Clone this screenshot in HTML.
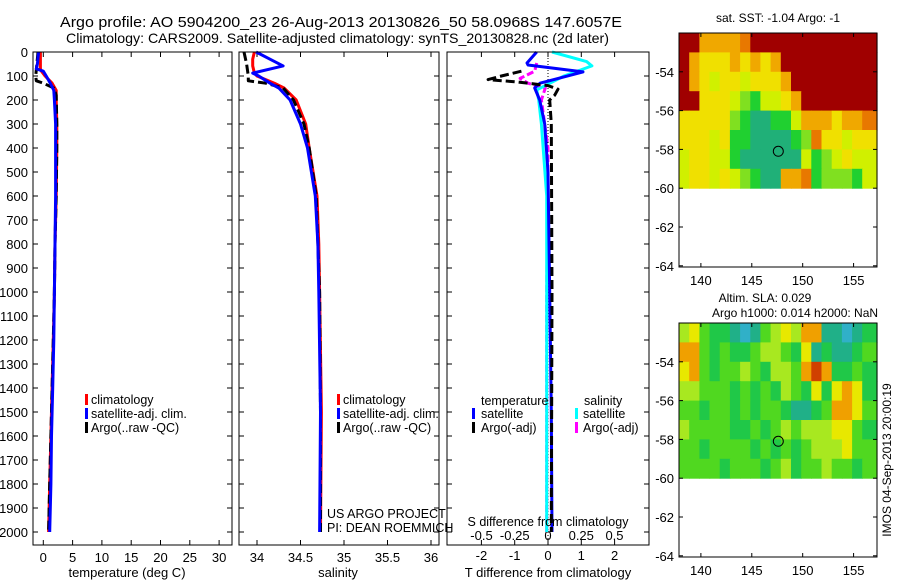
<!DOCTYPE html>
<html><head><meta charset="utf-8"><style>
html,body{margin:0;padding:0;background:#fff;}
svg{display:block;font-family:"Liberation Sans",sans-serif;}
text{font-size:13px;fill:#000;}
</style></head><body>
<svg id="fig" width="900" height="580" viewBox="0 0 900 580" xmlns="http://www.w3.org/2000/svg">
<text x="60" y="27" textLength="562" lengthAdjust="spacingAndGlyphs" style="font-size:15px">Argo profile: AO 5904200_23 26-Aug-2013 20130826_50 58.0968S 147.6057E</text>
<text x="66" y="43" textLength="543" lengthAdjust="spacingAndGlyphs" style="font-size:14px">Climatology: CARS2009. Satellite-adjusted climatology: synTS_20130828.nc (2d later)</text>
<g id="g"></g>
</svg>
<script>
// ---- profile data (depth in m) ----
const tDepth=[0,50,70,80,100,130,160,200,300,400,600,800,1000,1200,1400,1600,1800,2000];
const tClim=[-0.5,-0.5,-0.5,-0.3,0.3,1.5,2.2,2.2,2.3,2.3,2.2,2.0,1.9,1.7,1.5,1.3,1.1,0.9];
const tSat=[-0.8,-1.0,-1.2,0.0,0.5,1.2,1.8,1.9,2.1,2.1,2.1,2.0,1.9,1.8,1.6,1.4,1.3,1.1];
const aDepth=[0,50,100,120,130,150,180,300,400,600,800,1000,1200,1400,1600,1800,2000];
const tArgo=[-0.9,-1.1,-1.3,-1.2,0.0,1.8,2.2,2.3,2.3,2.2,2.0,1.9,1.7,1.5,1.3,1.1,0.9];
const sDepth=[0,30,58,88,100,130,150,200,300,400,600,800,1000,1500,2000];
const sClim=[33.97,33.95,33.95,33.97,34.0,34.2,34.31,34.45,34.56,34.6,34.69,34.71,34.72,34.74,34.73];
const sSat=[33.99,34.15,34.3,33.95,34.02,34.15,34.25,34.38,34.5,34.58,34.67,34.7,34.71,34.73,34.72];
const saDepth=[0,50,100,120,130,150,200,300,400,600,800,1000,1500,2000];
const sArgo=[33.85,33.88,33.9,33.9,34.1,34.3,34.42,34.54,34.6,34.68,34.7,34.72,34.73,34.73];
// differences
const dDepth=[0,46,54,83,130,150,200,300,500,1000,1500,2000];
const dTsat=[-0.34,-0.63,-0.6,1.05,-0.24,-0.4,-0.25,-0.1,0.0,0.05,0.1,0.12];
const dsDepth=[0,40,58,100,158,200,300,600,1000,2000];
const dSsat=[0.03,0.29,0.33,0.12,-0.085,-0.07,-0.05,-0.01,-0.01,-0.01];
const daDepth=[80,100,115,125,140,155,180,200,300,1000,2000];
const dTargo=[-0.8,-1.4,-1.8,-0.9,0.0,0.3,0.2,0.05,0.1,0.12,0.1];
const dsaDepth=[46,80,110,130,150,200,300,400,1000,2000];
const dSargo=[-0.085,-0.1,-0.21,-0.15,-0.02,-0.05,-0.025,0.0,-0.01,-0.01];
// ---- ticks ----
const depthTicks=[0,100,200,300,400,500,600,700,800,900,1000,1100,1200,1300,1400,1500,1600,1700,1800,1900,2000];
const tTicks=[0,5,10,15,20,25,30];
const sTicks=[34,34.5,35,35.5,36];
const dtTicks=[-2,-1,0,1,2];
const dsTicks=[-0.5,-0.25,0,0.25,0.5];
const dsTickLabels=["-0.5","-0.25","0","0.25","0.5"];
const latTicks=[-54,-56,-58,-60,-62,-64];
const lonTicks=[140,145,150,155];
// ---- maps (rows lat -52.. -60, cols lon 138..157) ----
const sstRows=[
[7,7,5,5,5,5,6,7,7,7,7,7,7,7,7,7,7,7,7],
[7,5,4,4,4,5,4,5,4,5,7,7,7,7,7,7,7,7,7],
[7,5,4,3,4,4,3,4,4,4,5,7,7,7,7,7,7,7,7],
[7,7,4,4,4,3,2,1,3,3,4,5,7,7,7,7,7,7,7],
[4,4,4,4,4,2,1,0,0,1,1,3,5,5,5,4,5,5,6],
[4,4,4,3,4,1,1,0,0,0,0,1,2,6,4,4,3,4,4],
[3,4,4,3,3,1,0,0,0,0,0,0,3,1,2,3,4,3,3],
[3,4,4,3,4,3,2,1,0,0,5,5,6,1,2,2,2,1,3]];
const slaRows=[
[4,5,3,2,2,1,0,1,3,4,5,4,6,6,1,1,0,1,2],
[6,6,3,2,3,2,2,3,4,4,3,2,5,1,2,1,1,2,3],
[5,6,3,2,3,3,4,3,2,4,4,3,6,7,6,2,2,3,2],
[4,4,3,3,3,2,3,2,3,2,4,3,2,5,2,5,6,5,2],
[3,3,2,3,3,2,3,2,3,3,2,1,1,2,3,6,6,5,3],
[4,3,3,3,3,2,2,3,2,3,4,3,4,4,4,5,5,3,2],
[3,3,2,3,3,3,3,2,3,2,3,2,3,4,4,4,5,3,3],
[3,3,3,3,2,3,3,3,2,3,4,2,3,3,4,3,3,2,3]];
const sstColors=["#20b078","#20d030","#80e020","#d0f000","#f0e000","#f0a800","#e87800","#a00000"];
const slaColors=["#30b0c8","#20b088","#20c848","#50d820","#a8e820","#e8e800","#f0a000","#d04000"];

const NS="http://www.w3.org/2000/svg";
const G=document.getElementById('g');
function mk(tag,attrs,parent){const e=document.createElementNS(NS,tag);for(const k in attrs)e.setAttribute(k,attrs[k]);(parent||G).appendChild(e);return e;}
const yD=d=>52+d*0.24;
const P1={x0:33,x1:232,f:v=>43.3+v*5.86};
const P2={x0:239,x1:439,f:v=>257+(v-34)*87};
const P3={x0:447,x1:649,f:v=>548+v*33.3};
const fS3=v=>548+v*133;

function frame(x0,x1,y0,y1,name){
  const r=mk('rect',{x:x0,y:y0,width:x1-x0,height:y1-y0,fill:'none',stroke:'#000','stroke-width':1});
  
  
}
function line(xs,ds,fx,color,name,dash){
  const pts=xs.map((v,i)=>fx(v).toFixed(1)+','+yD(ds[i]).toFixed(1)).join(' ');
  const p=mk('polyline',{points:pts,fill:'none',stroke:color,'stroke-width':3,'stroke-linejoin':'round'});
  if(dash)p.setAttribute('stroke-dasharray',dash);
  
  
}
function txt(x,y,s,anchor,name,size){
  const t=mk('text',{x:x,y:y,'text-anchor':anchor||'start'});
  if(size)t.style.fontSize=size+'px';
  t.textContent=s;
  
  
  return t;
}
function mark(x,y,color,name){
  const r=mk('rect',{x:x,y:y-10,width:3,height:11,fill:color});
  
  
}
[P1,P2,P3].forEach(P=>{
  depthTicks.forEach(d=>{
    mk('line',{x1:P.x0,x2:P.x0+5,y1:yD(d),y2:yD(d),stroke:'#000'});
    mk('line',{x1:P.x1,x2:P.x1-5,y1:yD(d),y2:yD(d),stroke:'#000'});
  });
});
depthTicks.forEach(d=>txt(28,yD(d)+5,String(d),'end','depth-tick-label'));
// panel 1
tTicks.forEach(v=>{const x=P1.f(v);mk('line',{x1:x,x2:x,y1:545,y2:540,stroke:'#000'});mk('line',{x1:x,x2:x,y1:52,y2:57,stroke:'#000'});txt(x,562,String(v),'middle','temp-tick-label');});
line(tClim,tDepth,P1.f,'#ff0000','temp-climatology-line');
line(tArgo,aDepth,P1.f,'#000','temp-argo-line','9,4');
line(tSat,tDepth,P1.f,'#0000ff','temp-satellite-line');
frame(P1.x0,P1.x1,52,545,'temperature-panel');
txt(127,577,'temperature (deg C)','middle','temp-x-axis-title');
mark(85,404,'#f00','legend-climatology-marker');txt(91,404,'climatology','start','legend-climatology',12.5);
mark(85,418,'#00f','legend-satellite-marker');txt(91,418,'satellite-adj. clim.','start','legend-satellite',12.5);
mark(85,432,'#000','legend-argo-marker');txt(91,432,'Argo(..raw -QC)','start','legend-argo',12.5);
// panel 2
sTicks.forEach(v=>{const x=P2.f(v);mk('line',{x1:x,x2:x,y1:545,y2:540,stroke:'#000'});mk('line',{x1:x,x2:x,y1:52,y2:57,stroke:'#000'});txt(x,562,String(v),'middle','sal-tick-label');});
line(sClim,sDepth,P2.f,'#ff0000','sal-climatology-line');
line(sArgo,saDepth,P2.f,'#000','sal-argo-line','9,4');
line(sSat,sDepth,P2.f,'#0000ff','sal-satellite-line');
frame(P2.x0,P2.x1,52,545,'salinity-panel');
txt(338,577,'salinity','middle','sal-x-axis-title');
mark(337,404,'#f00','legend2-climatology-marker');txt(343,404,'climatology','start','legend2-climatology',12.5);
mark(337,418,'#00f','legend2-satellite-marker');txt(343,418,'satellite-adj. clim.','start','legend2-satellite',12.5);
mark(337,432,'#000','legend2-argo-marker');txt(343,432,'Argo(..raw -QC)','start','legend2-argo',12.5);
txt(327,518,'US ARGO PROJECT','start','project-label',12.5);
txt(327,532,'PI: DEAN ROEMMICH','start','pi-label',12.5);
// panel 3
dtTicks.forEach(v=>{const x=P3.f(v);mk('line',{x1:x,x2:x,y1:545,y2:540,stroke:'#000'});mk('line',{x1:x,x2:x,y1:52,y2:57,stroke:'#000'});txt(x,560,String(v),'middle','dt-tick-label');});
dsTicks.forEach((v,i)=>txt(fS3(v),540,dsTickLabels[i],'middle','ds-tick-label'));
mk('line',{x1:548,x2:548,y1:52,y2:545,stroke:'#000','stroke-dasharray':'1,2'});
line(dSargo,dsaDepth,fS3,'#ff00ff','ds-argo-line','7,3');
line(dSsat,dsDepth,fS3,'#00ffff','ds-satellite-line');
line(dTsat,dDepth,P3.f,'#0000ff','dt-satellite-line');
line(dTargo,daDepth,P3.f,'#000','dt-argo-line','9,4');
frame(P3.x0,P3.x1,52,545,'difference-panel');
txt(548,526,'S difference from climatology','middle','ds-axis-title',12.5);
txt(548,577,'T difference from climatology','middle','dt-axis-title');
txt(481,405,'temperature','start','legend3-temperature-heading',12.5);
txt(584,405,'salinity','start','legend3-salinity-heading',12.5);
mark(472,418,'#00f','legend3-tsat-marker');txt(481,418,'satellite','start','legend3-tsat',12.5);
mark(472,432,'#000','legend3-targo-marker');txt(481,432,'Argo(-adj)','start','legend3-targo',12.5);
mark(575,418,'#0ff','legend3-ssat-marker');txt(583,418,'satellite','start','legend3-ssat',12.5);
mark(575,432,'#f0f','legend3-sargo-marker');txt(583,432,'Argo(-adj)','start','legend3-sargo',12.5);
// maps
const MX0=679,MX1=877,lonF=v=>679+(v-137.85)*10.18;
function map(top,rows,colors,name){
  const latF=v=>top+(-52-v)*19.4;
  rows.forEach((row,r)=>row.forEach((c,ci)=>{
    const y=latF(-52-r);
    const xa=Math.max(MX0,lonF(137.85+ci)),xb=Math.min(MX1,lonF(138.85+ci+(ci==row.length-1?2:0)));
    const cell=mk('rect',{x:xa.toFixed(1),y:y.toFixed(1),width:(xb-xa+0.6).toFixed(1),height:19.9,fill:colors[c]});
    
    
  }));
  latTicks.forEach(v=>{const y=latF(v);mk('line',{x1:MX0,x2:MX0+4,y1:y,y2:y,stroke:'#000'});mk('line',{x1:MX1,x2:MX1-4,y1:y,y2:y,stroke:'#000'});txt(674,y+5,String(v),'end',name+'-lat-label');});
  lonTicks.forEach(v=>{const x=lonF(v);mk('line',{x1:x,x2:x,y1:top+234,y2:top+230,stroke:'#000'});mk('line',{x1:x,x2:x,y1:top,y2:top+4,stroke:'#000'});});
  const c=mk('circle',{cx:lonF(147.6057),cy:latF(-58.0968),r:5,fill:'none',stroke:'#000','stroke-width':1});
  
  
  frame(MX0,MX1,top,top+234,name);
}
map(33,sstRows,sstColors,'sst-map');
map(323,slaRows,slaColors,'sla-map');
lonTicks.forEach(v=>txt(lonF(v),285,String(v),'middle','sst-lon-label'));
lonTicks.forEach(v=>txt(lonF(v),575,String(v),'middle','sla-lon-label'));
txt(778,22,'sat. SST: -1.04  Argo: -1','middle','sst-map-title',12);
txt(765,302,'Altim. SLA: 0.029','middle','sla-map-title',12);
txt(795,317,'Argo h1000: 0.014 h2000: NaN','middle','sla-map-subtitle',12);
const v=txt(0,0,'IMOS 04-Sep-2013 20:00:19','middle','imos-timestamp',12);
v.setAttribute('transform','translate(891,460) rotate(-90)');
</script>
</body></html>
